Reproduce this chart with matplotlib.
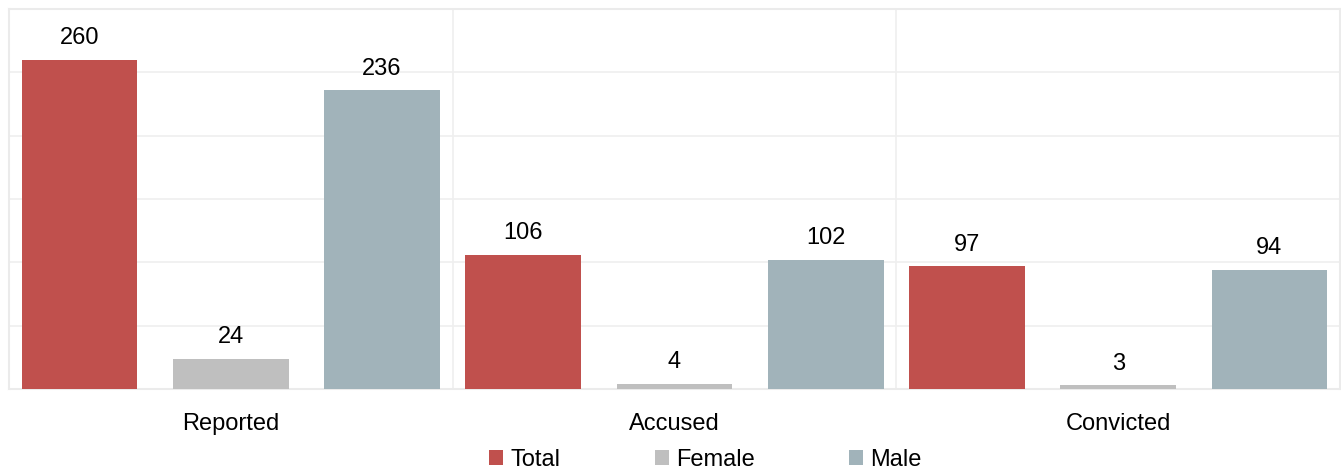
import matplotlib
matplotlib.use("Agg")
import matplotlib.pyplot as plt
import numpy as np

categories = ["Reported", "Accused", "Convicted"]
series_names = ["Total", "Female", "Male"]
total = [260, 106, 97]
female = [24, 4, 3]
male = [236, 102, 94]
colors = ["#C0504D", "#BFBFBF", "#A1B3BA"]

plt.rcParams['font.family'] = ['Liberation Sans', 'DejaVu Sans']

fig = plt.figure(figsize=(13.41, 4.70), dpi=100)
ax = fig.add_axes([9/1341, 81/470, 1331/1341, 380/470])

x = np.arange(len(categories))
offsets = [-0.341, 0.0, 0.341]
width = 0.261
for vals, off, col, name in zip([total, female, male], offsets, colors, series_names):
    bars = ax.bar(x + off, vals, width, color=col, label=name, zorder=3)
    for b, v in zip(bars, vals):
        ax.annotate(str(v), (b.get_x() + b.get_width()/2, v), xytext=(0, 7.6),
                    textcoords="offset points", ha="center", va="bottom", fontsize=17,
                    color="#000000")

ax.set_xlim(-0.5, 2.5)
ax.set_ylim(0, 300)
ax.set_yticks(np.arange(0, 301, 50))
ax.set_yticklabels([])
ax.tick_params(axis='y', length=0)
ax.set_xticks(x)
ax.set_xticklabels(categories, fontsize=17, color="#000000")
ax.tick_params(axis='x', length=0, pad=17.6)
ax.grid(axis='y', color="#EFEFEF", linewidth=1.2, zorder=0)
for xv in [0.5, 1.5]:
    ax.axvline(xv, color="#EFEFEF", linewidth=1.2, zorder=0)
for s in ax.spines.values():
    s.set_color("#EBEBEB")
    s.set_linewidth(1.5)

fig.legend(loc="lower center", bbox_to_anchor=(0.526, -0.047), ncol=3, frameon=False,
           fontsize=17, handlelength=0.6, handleheight=0.6, handletextpad=0.3,
           columnspacing=4.0)

fig.savefig("out.png", dpi=100)
